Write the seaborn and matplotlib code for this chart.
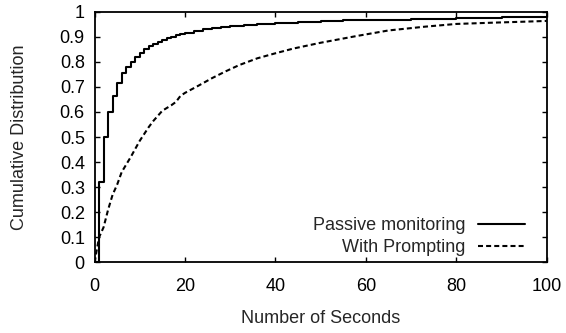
import numpy as np
import pandas as pd
import seaborn as sns
import matplotlib
matplotlib.use("Agg")
import matplotlib.pyplot as plt

# CDF of response time (seconds)
passive_seconds = [0, 1, 2, 3, 4, 5, 6, 7, 8, 9, 10, 11, 12, 13, 14, 15, 16,
                   17, 18, 19, 20, 22, 24, 26, 28, 30, 33, 36, 40, 45, 50,
                   55, 60, 70, 80, 90, 100]
passive_cdf = [0.0, 0.322, 0.502, 0.599, 0.665, 0.715, 0.754, 0.781, 0.800,
               0.821, 0.837, 0.850, 0.863, 0.872, 0.880, 0.888, 0.895,
               0.900, 0.905, 0.911, 0.915, 0.923, 0.929, 0.934, 0.939,
               0.943, 0.948, 0.952, 0.956, 0.960, 0.964, 0.966, 0.968,
               0.972, 0.975, 0.978, 0.982]

prompt_seconds = [0, 1, 2, 3, 4, 5, 6, 8, 10, 12, 13, 15, 17, 18, 19, 20,
                  23, 26, 29, 32, 36, 40, 44, 50, 58, 65, 73, 80, 88, 95, 100]
prompt_cdf = [0.0, 0.10, 0.14, 0.21, 0.27, 0.31, 0.36, 0.42, 0.485, 0.54,
              0.564, 0.605, 0.627, 0.640, 0.664, 0.676, 0.705, 0.735,
              0.762, 0.787, 0.814, 0.834, 0.853, 0.876, 0.903, 0.925,
              0.940, 0.951, 0.956, 0.960, 0.963]

series_names = ["Passive monitoring", "With Prompting"]
x_ticks = [0, 20, 40, 60, 80, 100]
y_ticks = [0, 0.1, 0.2, 0.3, 0.4, 0.5, 0.6, 0.7, 0.8, 0.9, 1]
y_tick_labels = ["0", "0.1", "0.2", "0.3", "0.4", "0.5", "0.6", "0.7", "0.8", "0.9", "1"]

sns.set_style("ticks")
plt.rcParams["font.family"] = ["Liberation Sans", "DejaVu Sans"]
plt.rcParams["font.size"] = 13

passive_df = pd.DataFrame({"sec": passive_seconds, "cdf": passive_cdf})
prompt_df = pd.DataFrame({"sec": prompt_seconds, "cdf": prompt_cdf})

fig = plt.figure(figsize=(5.66, 3.33), dpi=100)
ax = fig.add_axes([0.167, 0.212, 0.799, 0.753])

sns.lineplot(data=passive_df, x="sec", y="cdf", ax=ax, color="black",
             linewidth=1.5, drawstyle="steps-post", label=series_names[0])
sns.lineplot(data=prompt_df, x="sec", y="cdf", ax=ax, color="black",
             linewidth=1.5, dashes=False, label=series_names[1])
ax.lines[1].set_dashes((2.4, 1.5))

ax.set_xlim(0, 100)
ax.set_ylim(0, 1)
ax.set_xticks(x_ticks)
ax.set_xticklabels([str(t) for t in x_ticks])
ax.set_yticks(y_ticks)
ax.set_yticklabels(y_tick_labels)
ax.tick_params(direction="in", length=3.5, width=1, top=True, right=True,
               labelsize=13, colors="black")
ax.tick_params(axis="x", pad=11)
ax.tick_params(axis="y", pad=7)
for sp in ax.spines.values():
    sp.set_visible(True)
    sp.set_linewidth(1.3)
    sp.set_color("black")

ax.set_xlabel("Number of Seconds", fontsize=13)
ax.set_ylabel("Cumulative Distribution", fontsize=13)
ax.xaxis.set_label_coords(0.5, -0.19)
ax.yaxis.set_label_coords(-0.146, 0.5)

leg = ax.legend(loc="lower right", frameon=False, markerfirst=False,
                handlelength=2.6, handletextpad=0.7, labelspacing=0.25,
                fontsize=13, borderaxespad=0, borderpad=0,
                bbox_to_anchor=(0.952, 0.026))

plt.savefig("out.png", dpi=100)
plt.close()
